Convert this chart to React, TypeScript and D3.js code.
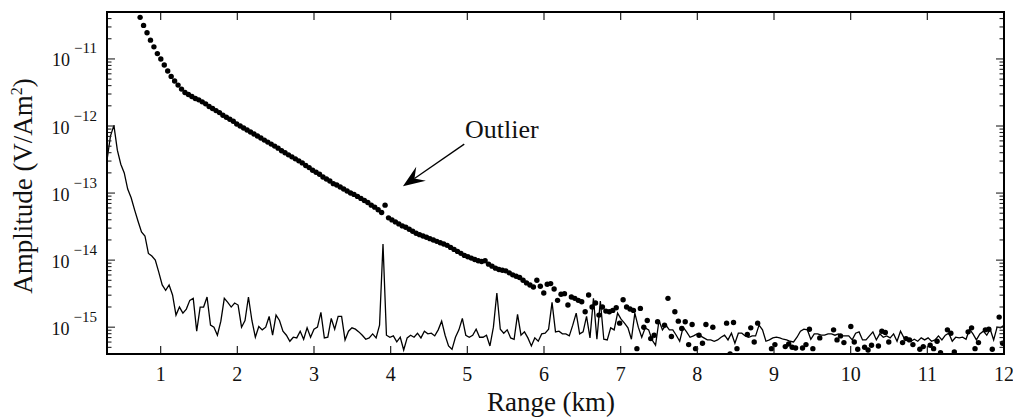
import React from 'react';
import * as d3 from 'd3';

const W = 1013;
const H = 420;
const margin = { top: 12, right: 9, bottom: 66, left: 107 };
const FONT = '"Liberation Serif", "Times New Roman", serif';

// sampling of the two records along range (km)
const sampleStepKm = 0.045;
const noiseStartKm = 0.3;
const decayStartKm = 0.732;

// noise record, log10 of amplitude (V/Am^2)
const noiseLog10 = [
  -12.51, -12.15, -11.99, -12.36, -12.57, -12.70, -12.94, -13.07, -13.25, -13.42,
  -13.58, -13.64, -13.90, -13.94, -14.00, -14.18, -14.37, -14.45, -14.37, -14.52,
  -14.82, -14.70, -14.79, -14.73, -14.60, -14.57, -15.06, -14.70, -14.70, -14.55,
  -14.97, -15.00, -15.12, -14.91, -14.57, -14.63, -14.70, -14.64, -14.67, -15.00,
  -14.90, -14.55, -14.90, -15.15, -14.99, -15.04, -15.00, -14.84, -15.12, -14.82,
  -14.90, -15.06, -15.12, -15.21, -15.15, -15.16, -15.06, -15.18, -15.01, -15.15,
  -15.03, -15.00, -14.78, -15.16, -15.15, -14.87, -15.03, -14.84, -14.84, -15.19,
  -15.06, -15.01, -15.03, -15.07, -15.12, -15.18, -15.16, -15.10, -15.16, -14.97,
  -13.76, -15.12, -15.15, -15.13, -15.22, -15.15, -15.34, -15.16, -15.12, -15.15,
  -15.09, -15.16, -15.06, -15.10, -15.09, -15.13, -15.04, -14.91, -15.12, -15.28,
  -15.33, -15.15, -15.04, -14.87, -15.12, -15.15, -15.12, -15.03, -15.15, -15.15,
  -15.12, -15.28, -15.00, -14.49, -15.03, -15.09, -15.04, -15.16, -15.18, -14.81,
  -15.12, -15.07, -15.16, -15.28, -15.16, -15.21, -15.10, -15.09, -15.03, -14.63,
  -15.07, -15.06, -15.10, -15.10, -15.13, -14.97, -14.79, -15.10, -15.07, -14.84,
  -15.16, -14.57, -15.18, -14.61, -15.18, -15.19, -15.01, -15.04, -14.79, -14.88,
  -14.94, -15.01, -15.18, -14.79, -15.00, -15.15, -15.01, -15.04, -15.19, -15.27,
  -14.90, -15.04, -14.97, -15.04, -15.04, -15.12, -15.21, -15.00, -15.07, -15.15,
  -15.13, -15.10, -15.13, -15.16, -15.19, -15.19, -15.21, -15.19, -15.15, -15.12,
  -15.19, -15.09, -15.24, -15.09, -15.09, -15.13, -15.15, -15.13, -15.13, -14.97,
  -15.04, -15.21, -15.19, -15.16, -15.15, -15.16, -15.18, -15.19, -15.21, -15.22,
  -15.15, -15.06, -15.03, -15.04, -15.18, -15.10, -15.10, -15.12, -15.12, -15.10,
  -15.10, -15.12, -15.10, -15.13, -15.13, -15.13, -15.19, -15.09, -15.07, -15.19,
  -15.19, -15.13, -15.07, -15.19, -15.10, -15.15, -15.13, -15.16, -15.10, -15.21,
  -15.06, -15.16, -15.19, -15.21, -15.18, -15.21, -15.16, -15.19, -15.16, -15.21,
  -15.19, -15.13, -15.19, -15.12, -15.09, -15.21, -15.15, -15.16, -15.15, -15.18,
  -15.03, -15.10, -15.19, -15.10, -15.06, -15.12, -15.03, -15.19, -15.00, -15.01,
  -14.97,
];

// decay record (dots), log10 of amplitude; null where no dot is visible
const decayLog10: (number | null)[] = [
  -10.38, -10.50, -10.61, -10.72, -10.82, -10.92, -11.00, -11.09, -11.18, -11.26,
  -11.33, -11.39, -11.45, -11.50, -11.53, -11.56, -11.59, -11.61, -11.64, -11.67,
  -11.71, -11.74, -11.77, -11.80, -11.84, -11.87, -11.90, -11.93, -11.97, -12.00,
  -12.03, -12.06, -12.09, -12.12, -12.15, -12.18, -12.21, -12.24, -12.27, -12.30,
  -12.33, -12.37, -12.40, -12.43, -12.46, -12.49, -12.52, -12.55, -12.59, -12.62,
  -12.66, -12.69, -12.72, -12.76, -12.79, -12.82, -12.86, -12.88, -12.91, -12.94,
  -12.97, -13.00, -13.02, -13.05, -13.08, -13.11, -13.14, -13.18, -13.21, -13.25,
  -13.29, -13.18, -13.37, -13.40, -13.43, -13.46, -13.49, -13.51, -13.54, -13.57,
  -13.60, -13.62, -13.64, -13.66, -13.68, -13.70, -13.72, -13.74, -13.76, -13.78,
  -13.81, -13.84, -13.87, -13.90, -13.93, -13.95, -13.97, -13.99, -14.01, -14.02,
  -14.01, -14.06, -14.09, -14.12, -14.14, -14.15, -14.16, -14.19, -14.22, -14.24,
  -14.26, -14.30, -14.34, -14.37, -14.40, -14.30, -14.39, -14.49, -14.36, -14.35,
  -14.43, -14.60, -14.51, -14.50, -14.67, -14.55, -14.57, -14.60, -14.62, -14.77,
  -14.52, -14.70, -14.64, -14.82, -14.70, -14.76, -14.77, -14.75, -14.71, -14.94,
  -14.59, -14.70, -14.73, -14.75, -15.32, -14.72, -15.00, -14.90, -15.17, -15.12,
  -14.92, null, -14.97, -14.57, -15.14, -14.77, -14.91, -15.02, -14.92, -15.26,
  -14.96, -15.32, -15.12, -15.24, -14.96, null, -15.00, null, null, null,
  -14.94, -15.40, -14.93, -15.32, null, null, -15.11, -15.01, -15.22, -14.94,
  null, null, null, -15.32, -15.26, null, null, -15.29, -15.25, -15.30,
  -15.31, null, -15.31, -15.26, -15.03, -15.32, null, -15.16, null, null,
  null, -15.04, -15.19, -15.13, -15.23, null, -14.99, -15.22, -15.33, null,
  -15.30, -15.34, -15.27, null, -15.28, -15.06, -15.08, -15.22, null, null,
  null, -15.23, -15.17, -15.19, -15.26, null, -15.33, -15.29, null, -15.27,
  -15.32, -15.21, -15.38, null, -15.04, -15.09, -15.37, null, null, null,
  -15.07, -15.01, -15.32, -15.23, null, -15.04, -15.03, -15.33, null, -14.85,
  -15.24,
];

const xDomain = [0.3, 12];
const yDomainLog10 = [-15.4, -10.3];
const xTickValues = [1, 2, 3, 4, 5, 6, 7, 8, 9, 10, 11, 12];
const yDecades = [-11, -12, -13, -14, -15];

const outlierNote = {
  text: 'Outlier',
  labelKm: 4.97, labelLog10: -12.18,
  tailKm: 4.96, tailLog10: -12.27,
  headKm: 4.16, headLog10: -12.9,
};

const App = () => {
  const left = margin.left;
  const right = W - margin.right;
  const top = margin.top;
  const bottom = H - margin.bottom;

  const x = d3.scaleLinear().domain(xDomain).range([left, right]);
  const y = d3.scaleLog()
    .domain([Math.pow(10, yDomainLog10[0]), Math.pow(10, yDomainLog10[1])])
    .range([bottom, top]);
  const yl = (e: number) => y(Math.pow(10, e));

  const noisePts = noiseLog10.map((v, i) => [noiseStartKm + i * sampleStepKm, v] as [number, number]);
  const line = d3.line<[number, number]>()
    .x(d => x(d[0]))
    .y(d => yl(d[1]));

  const dots = decayLog10
    .map((v, i) => ({ km: decayStartKm + i * sampleStepKm, v }))
    .filter(d => d.v !== null) as { km: number; v: number }[];

  // log ticks: majors at decades, minors at 2..9
  const allYTicks = y.ticks();
  const isMajor = (t: number) => Math.abs(Math.log10(t) - Math.round(Math.log10(t))) < 1e-6;

  // arrow geometry
  const tx = x(outlierNote.tailKm), ty = yl(outlierNote.tailLog10);
  const hx = x(outlierNote.headKm), hy = yl(outlierNote.headLog10);
  const ang = Math.atan2(hy - ty, hx - tx);
  const headLen = 22, headHalf = 8.5, notch = 14;
  const nx = hx - Math.cos(ang) * notch, ny = hy - Math.sin(ang) * notch;

  return (
    <svg width={W} height={H} style={{ position: 'absolute', left: 0, top: 0, background: '#fff' }}
      fontFamily={FONT}>
      <defs>
        <clipPath id="plot-clip">
          <rect x={left} y={top} width={right - left} height={bottom - top} />
        </clipPath>
      </defs>

      {/* data */}
      <g clipPath="url(#plot-clip)">
        <path d={line(noisePts) || ''} fill="none" stroke="#000" strokeWidth={1.3} strokeLinejoin="miter" />
        {dots.map((d, i) => (
          <circle key={i} cx={x(d.km)} cy={yl(d.v)} r={2.7} fill="#000" />
        ))}
      </g>

      {/* x ticks, bottom and top, pointing inward */}
      {xTickValues.map(t => (
        <g key={'xt' + t}>
          <line x1={x(t)} x2={x(t)} y1={bottom} y2={bottom - 8} stroke="#222" strokeWidth={1.2} />
          <line x1={x(t)} x2={x(t)} y1={top} y2={top + 8} stroke="#222" strokeWidth={1.2} />
          <text x={x(t)} y={381} textAnchor="middle" fontSize={20} fill="#111">{t}</text>
        </g>
      ))}

      {/* y ticks, left and right */}
      {allYTicks.map((t, i) => {
        const len = isMajor(t) ? 8 : 4.5;
        const yy = y(t);
        return (
          <g key={'yt' + i}>
            <line x1={left} x2={left + len} y1={yy} y2={yy} stroke="#222" strokeWidth={1.1} />
            <line x1={right} x2={right - len} y1={yy} y2={yy} stroke="#222" strokeWidth={1.1} />
          </g>
        );
      })}
      {yDecades.map(e => (
        <text key={'yl' + e} x={97} y={yl(e) + 7.5} textAnchor="end" fontSize={18} fill="#111">
          10<tspan dy={-13} dx={4} fontSize={15}>{'\u2212' + Math.abs(e)}</tspan>
        </text>
      ))}

      {/* frame */}
      <rect x={left} y={top} width={right - left} height={bottom - top} fill="none" stroke="#000" strokeWidth={2} />

      {/* axis titles */}
      <text x={551} y={411} textAnchor="middle" fontSize={27} fill="#111">Range (km)</text>
      <text transform={`translate(32,186) rotate(-90)`} textAnchor="middle" fontSize={27} fill="#111">
        Amplitude (V/Am<tspan dy={-10} fontSize={16}>2</tspan><tspan dy={10}>)</tspan>
      </text>

      {/* outlier annotation */}
      <text x={x(outlierNote.labelKm)} y={yl(outlierNote.labelLog10)} fontSize={26} fill="#111">
        {outlierNote.text}
      </text>
      <line x1={tx} y1={ty} x2={nx} y2={ny} stroke="#000" strokeWidth={1.3} />
      <path
        d={`M0,0 L${-headLen},${-headHalf} L${-notch},0 L${-headLen},${headHalf} Z`}
        transform={`translate(${hx},${hy}) rotate(${(ang * 180) / Math.PI})`}
        fill="#000"
      />
    </svg>
  );
};

export default App;
